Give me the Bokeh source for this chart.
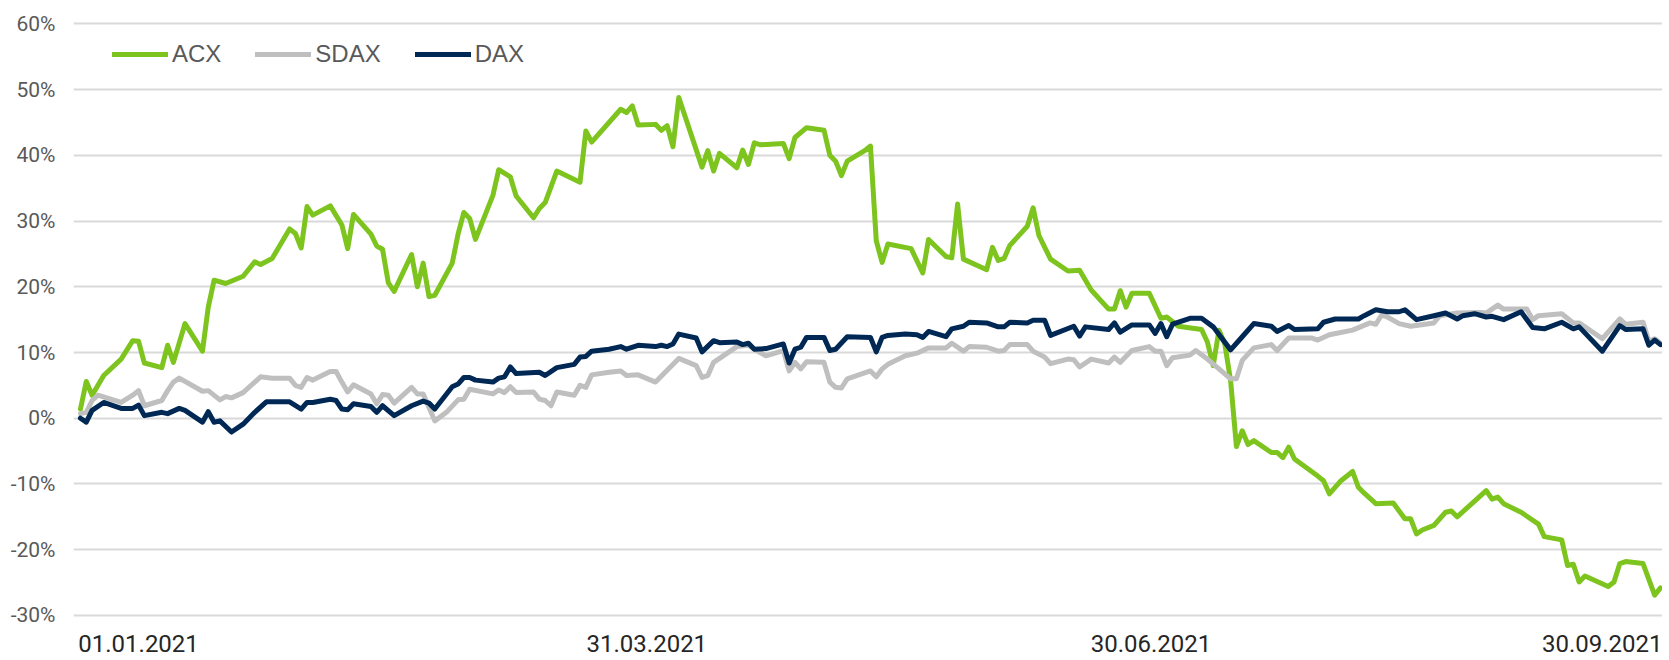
from bokeh.plotting import figure
from bokeh.models import Range1d, FixedTicker, Legend, LegendItem
from bokeh.embed import file_html
from bokeh.resources import INLINE

# x = calendar days since 01.01.2021, y = performance in %
acx_day = [0, 1, 2, 4, 7, 9, 10, 11, 14, 15, 16, 18, 21, 22, 23, 25, 28, 30, 31, 33, 36, 37, 38, 39, 40, 43, 45, 46, 47,
           50, 51, 52, 53, 54, 57, 58, 59, 60, 61, 64, 65, 66, 67, 68, 71, 72, 74, 75, 78, 79, 80, 81, 82, 86, 87, 88,
           93, 94, 95, 96, 99, 100, 101, 102, 103, 107, 108, 109, 110, 113, 114, 115, 116, 117, 121, 122, 123, 125,
           128, 129, 130, 131, 132, 135, 136, 137, 138, 139, 143, 145, 146, 149, 150, 151, 152, 156, 157, 158, 159,
           160, 163, 164, 165, 166, 167, 170, 172, 174, 177, 178, 179, 180, 181, 184, 186, 187, 189, 193, 194, 195,
           196, 197, 198, 199, 200, 201, 202, 205, 206, 207, 208, 209, 213, 214, 215, 217, 219, 220, 221, 223, 226,
           228, 229, 230, 231, 233, 235, 236, 237, 240, 242, 243, 244, 245, 248, 249, 251, 252, 255, 256, 257, 258,
           259, 263, 264, 265, 266, 269, 271, 272]
acx_pct = [1.4, 5.6, 3.5, 6.5, 9.0, 11.8, 11.7, 8.4, 7.7, 11.1, 8.5, 14.4, 10.2, 16.9, 21.0, 20.5, 21.6, 23.8, 23.4,
           24.3, 28.8, 28.1, 25.9, 32.2, 30.9, 32.3, 29.4, 25.8, 31.0, 28.0, 26.2, 25.7, 20.6, 19.3, 24.9, 20.0, 23.6,
           18.5, 18.7, 23.6, 28.0, 31.3, 30.4, 27.2, 33.9, 37.8, 36.7, 33.8, 30.5, 31.9, 32.8, 35.2, 37.6, 35.9, 43.7,
           42.0, 47.0, 46.5, 47.5, 44.6, 44.7, 43.8, 44.5, 41.3, 48.8, 38.2, 40.7, 37.6, 40.3, 38.1, 40.8, 38.6, 41.9,
           41.6, 41.8, 39.5, 42.7, 44.2, 43.8, 40.0, 39.1, 36.9, 39.1, 40.7, 41.4, 27.0, 23.7, 26.5, 25.8, 22.1, 27.2,
           24.6, 24.4, 32.6, 24.2, 22.6, 26.0, 24.0, 24.3, 26.3, 29.2, 32.0, 27.8, 26.0, 24.2, 22.4, 22.5, 19.5, 16.6,
           16.6, 19.4, 16.9, 19.0, 19.0, 15.2, 15.4, 14.0, 13.5, 11.6, 8.0, 13.4, 11.3, 5.7, -4.3, -1.9, -4.0, -3.4,
           -5.2, -5.2, -6.0, -4.4, -6.2, -8.8, -9.5, -11.5, -9.5, -8.1, -10.5, -11.4, -13.0, -12.9, -15.3, -15.3,
           -17.6, -17.0, -16.3, -14.3, -14.1, -15.0, -12.6, -11.0, -12.3, -12.0, -13.0, -14.3, -14.9, -16.1, -18.0,
           -18.5, -22.4, -22.2, -24.9, -24.0, -25.6, -24.9, -22.1, -21.8, -22.1, -26.9, -25.8]

sdax_day = [0, 1, 2, 3, 7, 9, 10, 11, 14, 15, 16, 17, 21, 22, 24, 25, 26, 28, 30, 31, 33, 36, 37, 38, 39, 40, 43, 44,
            45, 46, 47, 50, 51, 52, 53, 54, 57, 58, 59, 61, 63, 65, 66, 67, 71, 72, 73, 74, 75, 78, 79, 80, 81, 82,
            85, 86, 87, 88, 91, 93, 94, 96, 99, 103, 106, 107, 108, 109, 113, 115, 117, 118, 121, 122, 123, 124, 125,
            128, 129, 130, 131, 132, 134, 136, 137, 138, 139, 142, 144, 146, 149, 150, 152, 153, 156, 158, 159, 160,
            163, 164, 166, 167, 170, 171, 172, 174, 177, 178, 179, 181, 184, 185, 186, 187, 188, 191, 192, 194, 196,
            198, 199, 200, 202, 205, 206, 208, 209, 212, 213, 215, 219, 222, 223, 224, 225, 227, 229, 233, 234, 237,
            241, 242, 244, 245, 249, 250, 251, 255, 257, 258, 262, 265, 266, 269, 270, 271, 272]
sdax_pct = [0.7, 0.9, 2.7, 3.5, 2.4, 3.5, 4.2, 1.9, 2.7, 4.2, 5.5, 6.1, 4.1, 4.2, 2.8, 3.3, 3.1, 3.9, 5.5, 6.3, 6.1,
            6.1, 5.0, 4.7, 6.2, 5.8, 7.1, 7.1, 5.5, 4.0, 5.1, 3.7, 2.2, 3.6, 3.5, 2.3, 4.7, 3.7, 3.7, -0.4, 0.9, 2.8,
            2.9, 4.4, 3.7, 4.3, 3.9, 4.8, 3.9, 4.0, 2.9, 2.7, 1.9, 4.0, 3.5, 5.0, 4.7, 6.6, 7.0, 7.2, 6.5, 6.6, 5.5,
            9.1, 8.0, 6.2, 6.5, 8.5, 10.9, 11.1, 10.0, 9.5, 10.3, 7.2, 8.5, 7.5, 8.6, 8.5, 5.5, 4.7, 4.6, 6.0, 6.6,
            7.2, 6.3, 7.5, 8.2, 9.5, 9.9, 10.7, 10.7, 11.4, 10.2, 10.9, 10.8, 10.2, 10.3, 11.2, 11.2, 10.2, 9.3, 8.3,
            9.0, 8.9, 7.8, 9.0, 8.4, 9.3, 8.5, 10.3, 10.9, 10.2, 10.2, 8.0, 9.2, 9.6, 10.3, 9.0, 7.5, 6.0, 6.0, 8.8,
            10.7, 11.2, 10.3, 12.2, 12.2, 12.2, 11.9, 12.7, 13.4, 14.5, 14.3, 15.7, 15.4, 14.4, 14.0, 14.5, 15.6,
            16.0, 16.1, 16.0, 17.2, 16.6, 16.6, 15.0, 15.6, 15.9, 14.5, 14.5, 12.1, 15.1, 14.3, 14.6, 11.7, 12.1, 11.4]

dax_day = [0, 1, 2, 4, 7, 9, 10, 11, 14, 15, 17, 18, 21, 22, 23, 24, 26, 28, 30, 32, 36, 38, 39, 40, 43, 44, 45, 46,
           47, 50, 51, 52, 54, 57, 59, 60, 61, 64, 65, 66, 67, 68, 71, 72, 73, 74, 75, 79, 80, 82, 85, 86, 87, 88,
           91, 93, 94, 96, 99, 100, 101, 102, 103, 106, 107, 109, 110, 113, 114, 115, 116, 118, 121, 122, 123, 124,
           125, 128, 129, 130, 132, 136, 137, 138, 139, 142, 144, 145, 146, 149, 150, 152, 153, 156, 158, 159, 160,
           163, 164, 166, 167, 171, 172, 173, 177, 178, 179, 181, 184, 185, 186, 187, 188, 191, 193, 195, 198, 200,
           202, 205, 206, 208, 209, 213, 214, 216, 220, 221, 223, 225, 227, 228, 230, 233, 235, 237, 238, 240, 242,
           243, 245, 248, 250, 252, 255, 257, 258, 262, 265, 266, 269, 270, 271, 272]
dax_pct = [0.0, -0.6, 1.2, 2.4, 1.5, 1.5, 2.0, 0.4, 0.9, 0.7, 1.5, 1.2, -0.6, 1.0, -0.6, -0.4, -2.1, -0.9, 0.9, 2.5,
           2.5, 1.4, 2.4, 2.4, 2.9, 2.7, 1.4, 1.3, 2.2, 1.8, 0.9, 1.9, 0.4, 1.9, 2.6, 2.3, 1.4, 4.8, 5.2, 6.2, 6.2,
           5.8, 5.5, 6.1, 6.3, 7.8, 6.8, 7.0, 6.5, 7.7, 8.2, 9.3, 9.4, 10.2, 10.5, 10.9, 10.5, 11.1, 10.9, 11.1, 10.9,
           11.3, 12.8, 12.2, 10.1, 11.8, 11.5, 11.6, 11.2, 11.4, 10.5, 10.6, 11.3, 8.4, 10.5, 10.8, 12.3, 12.3, 10.3,
           10.5, 12.4, 12.3, 10.1, 12.3, 12.6, 12.8, 12.7, 12.3, 13.2, 12.4, 13.6, 14.0, 14.6, 14.5, 13.9, 13.9, 14.6,
           14.5, 14.9, 14.9, 12.6, 14.0, 12.5, 13.9, 13.5, 14.5, 13.1, 14.2, 14.2, 12.9, 14.4, 12.4, 14.3, 15.2,
           15.2, 13.9, 10.4, 12.4, 14.4, 14.0, 13.2, 14.1, 13.5, 13.6, 14.6, 15.1, 15.1, 15.6, 16.5, 16.2, 16.2,
           16.5, 15.0, 15.6, 16.0, 15.1, 15.6, 15.9, 15.4, 15.5, 15.0, 16.2, 13.8, 13.6, 14.6, 13.6, 13.9, 10.2,
           14.1, 13.5, 13.6, 11.1, 11.9, 11.2]

series_names = ["ACX", "SDAX", "DAX"]
series_colors = ["#7DC41F", "#BFBFBF", "#002855"]

x_tick_pos = [10, 97.5, 184.3, 262.5]
x_tick_labels = ["01.01.2021", "31.03.2021", "30.06.2021", "30.09.2021"]
y_ticks = [-30, -20, -10, 0, 10, 20, 30, 40, 50, 60]

p = figure(width=1662, height=660, output_backend="svg", toolbar_location=None,
           x_range=Range1d(-1.2, 272.35), y_range=Range1d(-30.46, 60.5),
           min_border_left=73, min_border_right=0, min_border_top=20, min_border_bottom=42)
p.outline_line_color = None
p.background_fill_color = "white"
p.border_fill_color = "white"

# axes
p.xaxis.ticker = FixedTicker(ticks=x_tick_pos)
p.xaxis.major_label_overrides = {t: l for t, l in zip(x_tick_pos, x_tick_labels)}
p.yaxis.ticker = FixedTicker(ticks=y_ticks)
p.yaxis.major_label_overrides = {t: f"{t}%" for t in y_ticks}
for ax in (p.xaxis, p.yaxis):
    ax.axis_line_color = None
    ax.major_tick_line_color = None
    ax.minor_tick_line_color = None
    ax.major_tick_in = 0
    ax.major_tick_out = 0
    ax.major_label_text_font = "Roboto"
p.yaxis.major_label_text_font_size = "21px"
p.yaxis.major_label_text_color = "#595959"
p.yaxis.major_label_standoff = 18
p.xaxis.major_label_text_font_size = "24px"
p.xaxis.major_label_text_color = "#262626"
p.xaxis.major_label_standoff = 16

p.xgrid.grid_line_color = None
p.ygrid.ticker = FixedTicker(ticks=y_ticks)
p.ygrid.grid_line_color = "#D9D9D9"
p.ygrid.grid_line_width = 2

renderers = []
for days, vals, color in [(acx_day, acx_pct, series_colors[0]),
                          (sdax_day, sdax_pct, series_colors[1]),
                          (dax_day, dax_pct, series_colors[2])]:
    r = p.line(x=days, y=vals, line_color=color, line_width=5,
               line_join="round", line_cap="round")
    renderers.append(r)

legend = Legend(items=[LegendItem(label=n, renderers=[r]) for n, r in zip(series_names, renderers)],
                orientation="horizontal", location=(39, 550),
                glyph_width=56, glyph_height=20, label_standoff=4, spacing=34,
                padding=0, margin=0, border_line_alpha=0, background_fill_alpha=0,
                label_text_font="Liberation Sans", label_text_font_size="24px",
                label_text_color="#595959")
p.add_layout(legend)

open("out.html", "w").write(file_html(p, INLINE))
